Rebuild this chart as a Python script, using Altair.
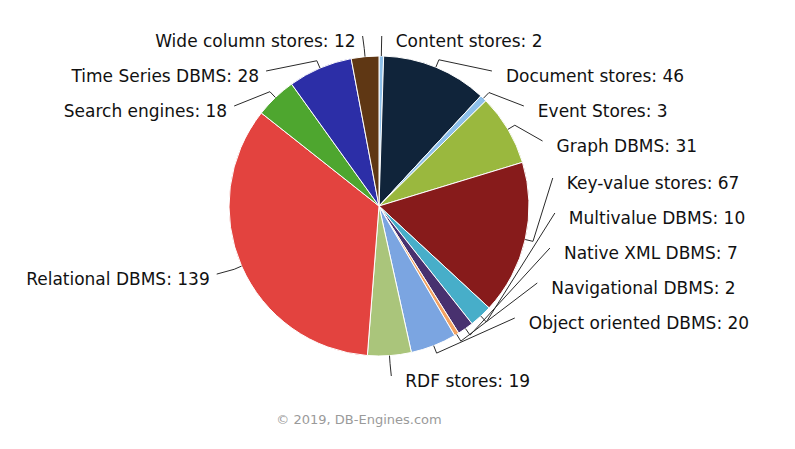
import math
import altair as alt
import pandas as pd

# ---- data ----
categories = ["Content stores", "Document stores", "Event Stores", "Graph DBMS",
              "Key-value stores", "Multivalue DBMS", "Native XML DBMS",
              "Navigational DBMS", "Object oriented DBMS", "RDF stores",
              "Relational DBMS", "Search engines", "Time Series DBMS",
              "Wide column stores"]
counts = [2, 46, 3, 31, 67, 10, 7, 2, 20, 19, 139, 18, 28, 12]
colors = ["#8dbfe9", "#10243a", "#8dbfe9", "#9ab83e", "#871b1b", "#47aec9",
          "#48316f", "#f2a262", "#7ba5e1", "#aac57b", "#e3433f", "#4ea62f",
          "#2c2ea7", "#5f3714"]
credit = "© 2019, DB-Engines.com"

# ---- layout parameters ----
W, H = 742, 396
CX, CY = W / 2, H / 2
R_PIE = 150
R_Y = 170          # label ring used for vertical slots
R_X = 176          # label ring used for horizontal placement
SLOT = 35          # label slot height
RESERVE = 58       # room kept for a label placed under the pie
BOTTOM_ZONE = 10   # degrees around 6 o'clock handled as bottom label
TOP, BOTTOM = CY - R_Y, CY + R_Y

total = sum(counts)
mid = []
acc = 0
for v in counts:
    mid.append((acc + v / 2) / total * 360)
    acc += v


def distribute(targets, lo, hi, size):
    clusters = [[t] for t in targets]

    def place(c):
        n = len(c)
        first = (min(c) + max(c)) / 2 - (n - 1) * size / 2
        return max(lo, min(first, hi - (n - 1) * size))

    changed = True
    while changed:
        changed = False
        pos = [place(c) for c in clusters]
        for i in range(len(clusters) - 1):
            last = pos[i] + (len(clusters[i]) - 1) * size
            if last + size > pos[i + 1] + 1e-9:
                clusters[i] = clusters[i] + clusters[i + 1]
                del clusters[i + 1]
                changed = True
                break
    out = []
    for c in clusters:
        p = place(c)
        out += [p + k * size for k in range(len(c))]
    return out


def natural(a, r):
    t = math.radians(a)
    return CX + r * math.sin(t), CY - r * math.cos(t)


ends = {}
bottom_ids = [i for i, a in enumerate(mid) if abs(a - 180) < BOTTOM_ZONE]
for i in bottom_ids:
    nx, _ = natural(mid[i], R_X)
    ends[i] = (nx, BOTTOM)

for side in (1, -1):
    ids = [i for i, a in enumerate(mid)
           if (a < 180 if side == 1 else a >= 180) and i not in bottom_ids]
    ids.sort(key=lambda i: natural(mid[i], R_Y)[1])
    has_bottom = any((mid[i] < 180) == (side == 1) for i in bottom_ids)
    hi = BOTTOM - RESERVE if has_bottom else BOTTOM
    targets = [natural(mid[i], R_Y)[1] for i in ids]
    ys = distribute(targets, TOP, hi, SLOT)
    for i, y in zip(ids, ys):
        if abs(y - TOP) < 1e-6:
            x = natural(mid[i], R_X)[0]
        else:
            x = CX + side * math.sqrt(max(0.0, R_X ** 2 - (y - CY) ** 2))
        ends[i] = (x, y)

conn_rows, lab_rows = [], []
for i, (cat, v) in enumerate(zip(categories, counts)):
    p0 = natural(mid[i], R_PIE)
    p1 = natural(mid[i], R_PIE + 8)
    p2 = ends[i]
    for k, p in enumerate((p0, p1, p2)):
        conn_rows.append({"cat": cat, "k": k, "px": p[0], "py": p[1]})
    right = p2[0] >= CX
    lab_rows.append({"cat": cat, "text": f"{cat}: {v}",
                     "lx": p2[0] + (14 if right else -7),
                     "ly": p2[1] + 6,
                     "side": "R" if right else "L"})

pie_df = pd.DataFrame({"cat": categories, "value": counts,
                       "idx": list(range(len(categories)))})
conn_df = pd.DataFrame(conn_rows)
lab_df = pd.DataFrame(lab_rows)

pie = alt.Chart(pie_df).mark_arc(outerRadius=R_PIE, stroke="white",
                                 strokeWidth=1).encode(
    theta=alt.Theta("value:Q", stack=True),
    order=alt.Order("idx:Q"),
    color=alt.Color("cat:N", scale=alt.Scale(domain=categories, range=colors),
                    legend=None),
)

conn = alt.Chart(conn_df).mark_line(color="#2a2a2a", strokeWidth=1).encode(
    x=alt.X("px:Q", scale=None, axis=None),
    y=alt.Y("py:Q", scale=None, axis=None),
    detail="cat:N",
    order="k:Q",
)

txt = dict(font="DejaVu Sans", fontSize=17, color="#111111", baseline="middle")
lab_r = alt.Chart(lab_df).transform_filter(alt.datum.side == "R").mark_text(
    align="left", **txt).encode(
    x=alt.X("lx:Q", scale=None, axis=None),
    y=alt.Y("ly:Q", scale=None, axis=None),
    text="text:N",
)
lab_l = alt.Chart(lab_df).transform_filter(alt.datum.side == "L").mark_text(
    align="right", **txt).encode(
    x=alt.X("lx:Q", scale=None, axis=None),
    y=alt.Y("ly:Q", scale=None, axis=None),
    text="text:N",
)

chart = alt.layer(pie, conn, lab_r, lab_l).properties(
    width=W, height=H,
    autosize="none",
    padding={"left": 0, "top": 0, "right": 37, "bottom": 37},
    title=alt.TitleParams(credit, orient="bottom", anchor="middle", dx=-20,
                          offset=10, font="DejaVu Sans", fontSize=13,
                          fontWeight="normal", color="#9a9a9a"),
).configure_view(stroke=None)

chart.save("out.html", embed_options={"renderer": "svg", "actions": False})
